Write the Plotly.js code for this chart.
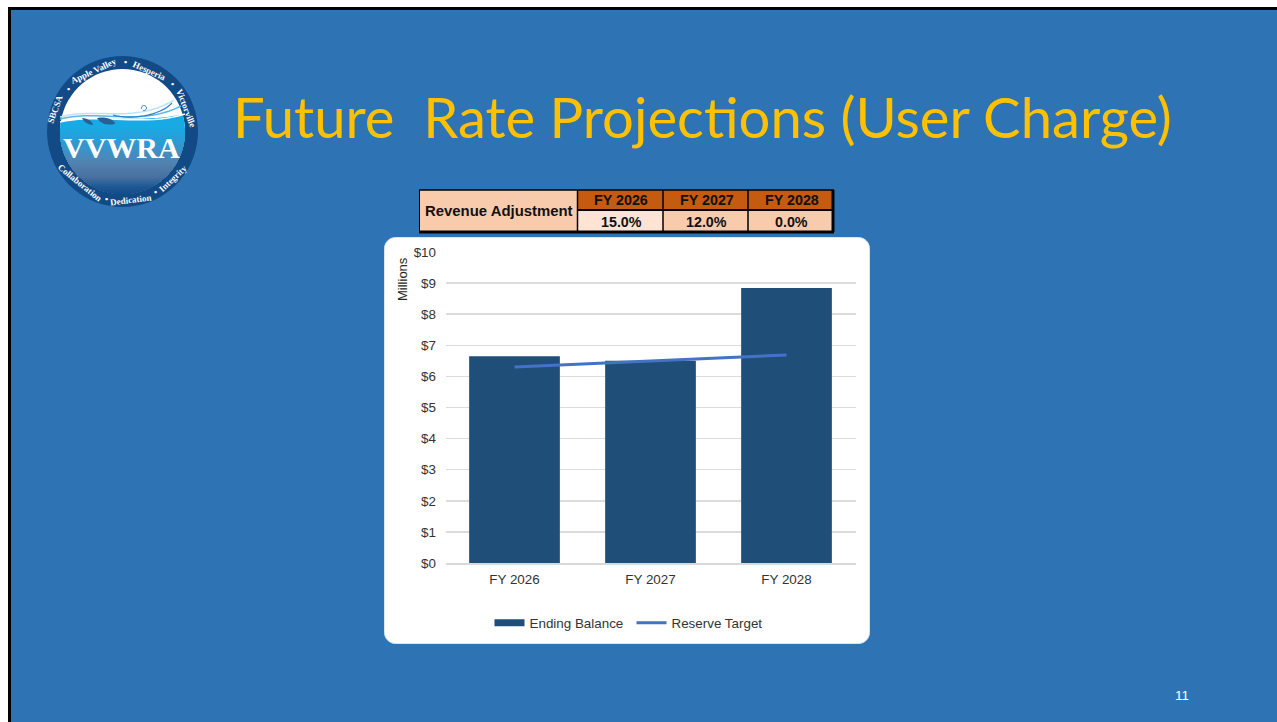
<!DOCTYPE html>
<html><head><meta charset="utf-8">
<script src="https://cdn.plot.ly/plotly-3.0.1.min.js"></script>
<style>html,body{margin:0;padding:0;background:#fff;overflow:hidden}#c{width:1277px;height:722px}</style>
</head><body><div id="c"></div>
<script>
// ---- data ----
const categories = ['FY 2026','FY 2027','FY 2028'];
const endingBalance = [6.65, 6.5, 8.84];
const reserveTarget = [6.3, 6.5, 6.69];
const yTickVals = [0,1,2,3,4,5,6,7,8,9,10];
const yTickText = ['$0','$1','$2','$3','$4','$5','$6','$7','$8','$9','$10'];
const tableLabel = 'Revenue Adjustment';
const tableValues = ['15.0%','12.0%','0.0%'];
const titleText = 'Future\u00a0\u00a0Rate Projections (User Charge)';
const pageNumber = '11';

// ---- helpers: pixel -> paper ----
const W = 1277, H = 722;
const X = p => p / W, Y = p => 1 - p / H;
const pathOf = pts => 'M' + pts.map(p => X(p[0]).toFixed(5) + ',' + Y(p[1]).toFixed(5)).join('L');
const rectS = (x0, y0, x1, y1, fill, line, lw) => ({type:'rect', xref:'paper', yref:'paper', x0:X(x0), x1:X(x1), y0:Y(y0), y1:Y(y1), fillcolor:fill, line:{color:line||'rgba(0,0,0,0)', width:lw||0}, layer:'below'});
const polyS = (pts, fill, line, lw) => ({type:'path', xref:'paper', yref:'paper', path:pathOf(pts)+(fill?'Z':''), fillcolor:fill||'rgba(0,0,0,0)', line:{color:line||'rgba(0,0,0,0)', width:lw||0}, layer:'below'});
const lineS = (x0, y0, x1, y1, c, w) => ({type:'line', xref:'paper', yref:'paper', x0:X(x0), x1:X(x1), y0:Y(y0), y1:Y(y1), line:{color:c, width:w}, layer:'below'});
const note = (x, y, text, size, color, opt) => Object.assign({xref:'paper', yref:'paper', x:X(x), y:Y(y), text, showarrow:false, font:{family:'"Liberation Sans", Arial, sans-serif', size, color}, xanchor:'center', yanchor:'middle', borderpad:0, borderwidth:0}, opt||{});

function roundRect(x0, y0, x1, y1, r){
  const pts = [];
  [[x1-r,y0+r,-90],[x1-r,y1-r,0],[x0+r,y1-r,90],[x0+r,y0+r,180]].forEach(c=>{
    for(let a=0;a<=90;a+=15){const t=(c[2]+a)*Math.PI/180;pts.push([c[0]+r*Math.cos(t),c[1]+r*Math.sin(t)]);}
  });
  return pts;
}
function circlePts(cx, cy, r, from, to, n){
  const pts=[];for(let i=0;i<=n;i++){const t=(from+(to-from)*i/n)*Math.PI/180;pts.push([cx+r*Math.cos(t),cy+r*Math.sin(t)]);}return pts;
}
function curve(p0,c1,c2,p1,n){const o=[];for(let i=0;i<=n;i++){const t=i/n,u=1-t;o.push([u*u*u*p0[0]+3*u*u*t*c1[0]+3*u*t*t*c2[0]+t*t*t*p1[0],u*u*u*p0[1]+3*u*u*t*c1[1]+3*u*t*t*c2[1]+t*t*t*p1[1]]);}return o;}

const shapes = [];
const annotations = [];

// slide
shapes.push(rectS(9.5, 8.5, 1290, 740, '#2E74B5', '#000000', 3));
// card
shapes.push(polyS(roundRect(384.5,237.5,869.5,643.5,11), '#FFFFFF', '#DCE6F0', 1));

// ---- logo ----
const cx=122.5, cy=131.5, R=62.5;
shapes.push(polyS(circlePts(cx,cy,75.5,0,360,72), '#124A86'));
shapes.push(polyS(circlePts(cx,cy,R,0,360,72), '#FFFFFF'));
function cap(yCut, color){
  const a = Math.asin((yCut-cy)/R)*180/Math.PI;
  shapes.push(polyS(circlePts(cx,cy,R,a,180-a,40), color));
}
const seaTop = curve([60.5,122],[95,114],[140,124],[184,114],24);
const seaL = Math.asin((122-cy)/R)*180/Math.PI, seaR = Math.asin((114-cy)/R)*180/Math.PI;
shapes.push(polyS(seaTop.concat(circlePts(cx,cy,R,seaR,180-seaL,50)), '#17AAE4'));
const seaStops = [[126,[23,170,228]],[146,[52,150,205]],[162,[82,130,176]],[176,[72,112,160]],[186,[28,88,148]],[194,[18,74,134]]];
for(let y=128;y<194;y+=2){
  let j=0; while(j<seaStops.length-2 && y>seaStops[j+1][0]) j++;
  const a=seaStops[j], b=seaStops[j+1], t=(y-a[0])/(b[0]-a[0]);
  const c=a[1].map((v,k)=>Math.round(v+(b[1][k]-v)*t));
  cap(y,'rgb('+c.join(',')+')');
}
// waves
shapes.push(polyS(curve([60,117],[95,107],[135,124],[174,100],20), null, '#BFE3F5', 1.5));
shapes.push(polyS(curve([60,119],[100,109],[140,127],[181,106],20), null, '#5DB7E6', 1.5));
shapes.push(polyS(curve([60,122],[100,113],[145,127],[185,114],20), null, '#FFFFFF', 1.5));
shapes.push(polyS(curve([113,115],[130,120],[160,116],[172,103],16), null, '#2C7FC0', 1.2));
shapes.push(polyS(circlePts(144,108,2.5,-200,120,16), null, '#2C7FC0', 1));
shapes.push(polyS(curve([82,118],[88,118],[93,122],[93,125],8).concat(curve([93,125],[88,125],[84,122],[82,118],8)), '#2A5F93'));
shapes.push(polyS(curve([97,118],[106,116],[115,120],[115,124],8).concat(curve([115,124],[106,126],[100,123],[97,118],8)), '#2A5F93'));

annotations.push(note(121,147.5,'VVWRA',30,'#FFFFFF',{font:{family:'"Liberation Serif", serif',size:30,color:'#FFFFFF',weight:700}}));
const ringFont = s => ({family:'"Liberation Serif", serif', size:s, color:'#FFFFFF', weight:700});
const ringWords = [
  ['SBCSA',55.5,109.5,-70],['\u2022',68.5,88.5,0],['Apple Valley',93.5,71,-25],['\u2022',125,62,0],
  ['Hesperia',149.5,70.5,24],['\u2022',172.5,83.5,0],['Victorville',186,108,69],
  ['Collaboration',80,183,39],['\u2022',106,199,0],['Dedication',131,200,-7],['\u2022',155,192,0],['Integrity',172.5,179,-43]
];
ringWords.forEach(w=>annotations.push(note(w[1],w[2],w[0],9,'#FFFFFF',{textangle:w[3],font:ringFont(9)})));

// ---- table ----
const colX = [419.5,577.5,663,748,833];
const rowY = [190,210,232];
shapes.push(rectS(colX[0],rowY[0],colX[1],rowY[2],'#F8CBAD'));
const cellFills = ['#FFE4D6','#F8CBAD','#F8CBAD'];
const tableFont = s => ({family:'"Liberation Sans", Arial, sans-serif',size:s,color:'#111111',weight:700});
categories.forEach((c,i)=>{
  shapes.push(rectS(colX[i+1],rowY[0],colX[i+2],rowY[1],'#C55A11'));
  shapes.push(rectS(colX[i+1],rowY[1],colX[i+2],rowY[2],cellFills[i]));
  const mx=(colX[i+1]+colX[i+2])/2+1;
  annotations.push(note(mx,200.5,c,14.3,'#111111',{font:tableFont(14.3)}));
  annotations.push(note(mx,221.5,tableValues[i],14.3,'#111111',{font:tableFont(14.3)}));
});
annotations.push(note(499,211,tableLabel,14.9,'#111111',{font:tableFont(14.9)}));
shapes.push(lineS(419,190,834,190,'#000000',1.5));
shapes.push(lineS(419,232,834,232,'#000000',3));
shapes.push(lineS(577.5,210,834,210,'#000000',2));
colX.forEach((x,i)=>shapes.push(lineS(x,190,x,232,'#000000',i===4?3:(i===0?1:1.5))));

// ---- text ----
annotations.push(note(233,116,titleText,56.2,'#FFC000',{xanchor:'left',font:{family:'Lato, sans-serif',size:56.2,color:'#FFC000'}}));
annotations.push(note(1182,695,pageNumber,13.5,'#FFFFFF',{}));
annotations.push(note(402,279,'Millions',13,'#262626',{textangle:-90}));

const axisFont = {family:'"Liberation Sans", Arial, sans-serif', size:13.4, color:'#333333'};
const traces = [
  {type:'bar', x:categories, y:endingBalance, name:'Ending Balance', marker:{color:'#1F4E79'}, showlegend:false, hoverinfo:'x+y'},
  {type:'scatter', mode:'lines', x:categories, y:categories.map(()=>null), name:'Ending Balance', line:{color:'#1F4E79', width:7}},
  {type:'scatter', mode:'lines', x:categories, y:reserveTarget, name:'Reserve Target', line:{color:'#4472C4', width:3}}
];
const layout = {
  width:W, height:H, margin:{l:0,r:0,t:0,b:0,pad:0},
  paper_bgcolor:'#FFFFFF', plot_bgcolor:'rgba(0,0,0,0)',
  bargap:0.333, font:axisFont,
  xaxis:{domain:[X(446),X(856)], type:'category', range:[-0.5037,2.511], showgrid:false, showline:true, linecolor:'#D9D9D9', linewidth:1.5, ticks:'', tickfont:axisFont, ticklabelstandoff:3, fixedrange:true, automargin:false},
  yaxis:{domain:[Y(563),Y(252)], range:[0,10], tickvals:yTickVals, ticktext:yTickText, gridcolor:'#DCDCDC', gridwidth:1.5, zeroline:false, showline:false, ticks:'', tickfont:axisFont, ticklabelstandoff:9, fixedrange:true, automargin:false},
  showlegend:true,
  legend:{orientation:'h', x:X(489.5), y:Y(623), xanchor:'left', yanchor:'middle', bgcolor:'rgba(0,0,0,0)', font:axisFont, itemwidth:30, entrywidth:97, entrywidthmode:'pixels', traceorder:'normal'},
  shapes, annotations
};
Plotly.newPlot('c', traces, layout, {displayModeBar:false, staticPlot:true});
</script></body></html>
